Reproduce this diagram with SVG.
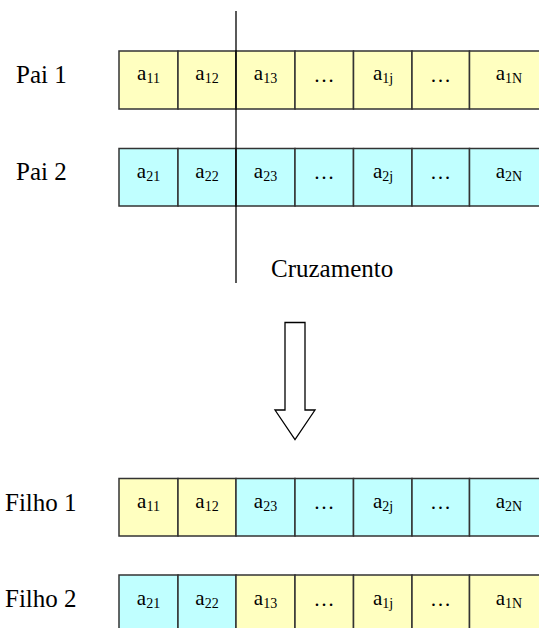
<svg xmlns="http://www.w3.org/2000/svg" width="539" height="628" viewBox="0 0 539 628">
  <style>
    .label { font-family: "Times New Roman", "Liberation Serif", "DejaVu Serif", serif; font-size: 25px; fill: #000; }
    .gene { font-family: "Times New Roman", "Liberation Serif", "DejaVu Serif", serif; font-size: 21px; fill: #000; text-anchor: middle; }
    .sub { font-size: 14px; }
    .y { fill: #FFFFC0; stroke: #333; stroke-width: 1.5; }
    .c { fill: #C0FFFF; stroke: #333; stroke-width: 1.5; }
  </style>
  <rect width="539" height="628" fill="#fff"/>

  <!-- Parent 1 -->
  <g id="pai1">
    <text class="label" x="16" y="83">Pai 1</text>
    <rect class="y" x="119" y="51" width="59" height="58"/>
    <rect class="y" x="178" y="51" width="58" height="58"/>
    <rect class="y" x="236" y="51" width="59" height="58"/>
    <rect class="y" x="295" y="51" width="58.5" height="58"/>
    <rect class="y" x="353.5" y="51" width="58.5" height="58"/>
    <rect class="y" x="412" y="51" width="57.5" height="58"/>
    <rect class="y" x="469.5" y="51" width="80" height="58"/>
    <text class="gene" x="148.5" y="80">a<tspan class="sub" dy="3">11</tspan></text>
    <text class="gene" x="207" y="80">a<tspan class="sub" dy="3">12</tspan></text>
    <text class="gene" x="265.5" y="80">a<tspan class="sub" dy="3">13</tspan></text>
    <text class="gene" x="324" y="82">…</text>
    <text class="gene" x="383" y="80">a<tspan class="sub" dy="3">1j</tspan></text>
    <text class="gene" x="440.5" y="82">…</text>
    <text class="gene" x="509" y="80">a<tspan class="sub" dy="3">1N</tspan></text>
  </g>

  <!-- Parent 2 -->
  <g id="pai2">
    <text class="label" x="16" y="180">Pai 2</text>
    <rect class="c" x="119" y="148.5" width="59" height="57.5"/>
    <rect class="c" x="178" y="148.5" width="58" height="57.5"/>
    <rect class="c" x="236" y="148.5" width="59" height="57.5"/>
    <rect class="c" x="295" y="148.5" width="58.5" height="57.5"/>
    <rect class="c" x="353.5" y="148.5" width="58.5" height="57.5"/>
    <rect class="c" x="412" y="148.5" width="57.5" height="57.5"/>
    <rect class="c" x="469.5" y="148.5" width="80" height="57.5"/>
    <text class="gene" x="148.5" y="178">a<tspan class="sub" dy="3">21</tspan></text>
    <text class="gene" x="207" y="178">a<tspan class="sub" dy="3">22</tspan></text>
    <text class="gene" x="265.5" y="178">a<tspan class="sub" dy="3">23</tspan></text>
    <text class="gene" x="324" y="179">…</text>
    <text class="gene" x="383" y="178">a<tspan class="sub" dy="3">2j</tspan></text>
    <text class="gene" x="440.5" y="179">…</text>
    <text class="gene" x="509" y="178">a<tspan class="sub" dy="3">2N</tspan></text>
  </g>

  <!-- Crossover point -->
  <g id="cruzamento">
    <line x1="236" y1="11" x2="236" y2="283" stroke="#000" stroke-width="1.3"/>
    <text class="label" x="271" y="277">Cruzamento</text>
  </g>

  <!-- Hollow down arrow -->
  <g id="seta">
    <path d="M285 322.5 H305 V410 H315 L295 439.5 L275 410 H285 Z" fill="#fff" stroke="#000" stroke-width="1.3" stroke-linejoin="miter"/>
  </g>

  <!-- Offspring 1 -->
  <g id="filho1">
    <text class="label" x="5" y="511">Filho 1</text>
    <rect class="y" x="119" y="478.5" width="59" height="57.5"/>
    <rect class="y" x="178" y="478.5" width="58" height="57.5"/>
    <rect class="c" x="236" y="478.5" width="59" height="57.5"/>
    <rect class="c" x="295" y="478.5" width="58.5" height="57.5"/>
    <rect class="c" x="353.5" y="478.5" width="58.5" height="57.5"/>
    <rect class="c" x="412" y="478.5" width="57.5" height="57.5"/>
    <rect class="c" x="469.5" y="478.5" width="80" height="57.5"/>
    <text class="gene" x="148.5" y="508">a<tspan class="sub" dy="3">11</tspan></text>
    <text class="gene" x="207" y="508">a<tspan class="sub" dy="3">12</tspan></text>
    <text class="gene" x="265.5" y="508">a<tspan class="sub" dy="3">23</tspan></text>
    <text class="gene" x="324" y="509">…</text>
    <text class="gene" x="383" y="508">a<tspan class="sub" dy="3">2j</tspan></text>
    <text class="gene" x="440.5" y="509">…</text>
    <text class="gene" x="509" y="508">a<tspan class="sub" dy="3">2N</tspan></text>
  </g>

  <!-- Offspring 2 -->
  <g id="filho2">
    <text class="label" x="5" y="607">Filho 2</text>
    <rect class="c" x="119" y="575" width="59" height="58"/>
    <rect class="c" x="178" y="575" width="58" height="58"/>
    <rect class="y" x="236" y="575" width="59" height="58"/>
    <rect class="y" x="295" y="575" width="58.5" height="58"/>
    <rect class="y" x="353.5" y="575" width="58.5" height="58"/>
    <rect class="y" x="412" y="575" width="57.5" height="58"/>
    <rect class="y" x="469.5" y="575" width="80" height="58"/>
    <text class="gene" x="148.5" y="605">a<tspan class="sub" dy="3">21</tspan></text>
    <text class="gene" x="207" y="605">a<tspan class="sub" dy="3">22</tspan></text>
    <text class="gene" x="265.5" y="605">a<tspan class="sub" dy="3">13</tspan></text>
    <text class="gene" x="324" y="606">…</text>
    <text class="gene" x="383" y="605">a<tspan class="sub" dy="3">1j</tspan></text>
    <text class="gene" x="440.5" y="606">…</text>
    <text class="gene" x="509" y="605">a<tspan class="sub" dy="3">1N</tspan></text>
  </g>
</svg>
